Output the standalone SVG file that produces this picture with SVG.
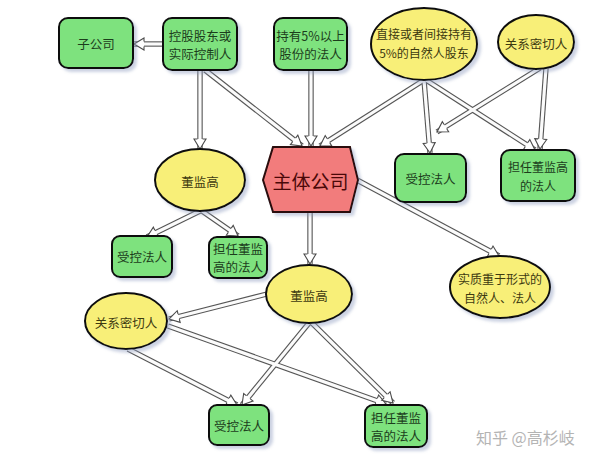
<svg xmlns="http://www.w3.org/2000/svg" xmlns:xlink="http://www.w3.org/1999/xlink" width="600" height="462" viewBox="0 0 600 462">
<defs>
<style>
text{font-family:"Noto Sans CJK SC","Noto Sans",sans-serif;text-anchor:middle;dominant-baseline:central}
.box{fill:#7ee27e;stroke:#111;stroke-width:2;filter:url(#sh)}
.ell{fill:#f8ef78;stroke:#111;stroke-width:2;filter:url(#sh)}
.hex{fill:#f27c7c;stroke:#2a0a0a;stroke-width:2;filter:url(#sh)}
.tg{font-size:12.5px;fill:#1c3d1c}
.ty{font-size:12.5px;fill:#3d3a10}
.s{font-size:12px}
.th{font-size:19px;fill:#4a0808}
.outer{fill:none;stroke:#555;stroke-width:5.4}
.inner{fill:none;stroke:#fbfbfb;stroke-width:3.2}
.head{fill:none;stroke:none;marker-end:url(#ah)}
.wm{font-size:16px;fill:#b4b4b4;text-anchor:start}
</style>
<filter id="sh" x="-20%" y="-20%" width="140%" height="150%">
<feDropShadow dx="3" dy="3" stdDeviation="1.5" flood-color="#8d9cc0" flood-opacity="0.45"/>
</filter>
<marker id="ah" markerUnits="userSpaceOnUse" orient="auto" refX="0" refY="0" markerWidth="20" markerHeight="20" overflow="visible">
<path d="M-10,-2.6 L-10,-6 L0,0 L-10,6 L-10,2.6" fill="#fff" stroke="#4a4a4a" stroke-width="1.1"/>
</marker>
<path id="c1" d="M163,44 L134,44"/>
<path id="c2" d="M200,70 L200,149"/>
<path id="c3" d="M205,70 L302,146"/>
<path id="c4" d="M311,70 L311,146"/>
<path id="c5" d="M424,80 L320,146"/>
<path id="c6" d="M424,80 L430,153"/>
<path id="c7" d="M426,80 L535,150"/>
<path id="c8" d="M540,68 L437,132"/>
<path id="c9" d="M546,68 L540,149"/>
<path id="c10" d="M200,211 L147,237"/>
<path id="c11" d="M202,211 L238,236"/>
<path id="c12" d="M310,212 L310,264"/>
<path id="c13" d="M357,180 L499,256"/>
<path id="c14" d="M267,294 L169,319"/>
<path id="c15" d="M128,349 L237,405"/>
<path id="c16" d="M309,323 L242,405"/>
<path id="c17" d="M168,326 L386,404"/>
<path id="c18" d="M312,323 L393,403"/>
</defs>
<rect width="600" height="462" fill="#fff"/>
<g id="connectors">
<g class="outer">
<use xlink:href="#c1"/><use xlink:href="#c2"/><use xlink:href="#c3"/><use xlink:href="#c4"/><use xlink:href="#c5"/><use xlink:href="#c6"/><use xlink:href="#c7"/><use xlink:href="#c8"/><use xlink:href="#c9"/><use xlink:href="#c10"/><use xlink:href="#c11"/><use xlink:href="#c12"/><use xlink:href="#c13"/><use xlink:href="#c14"/><use xlink:href="#c15"/><use xlink:href="#c16"/><use xlink:href="#c17"/><use xlink:href="#c18"/>
</g>
<g class="inner">
<use xlink:href="#c1"/><use xlink:href="#c2"/><use xlink:href="#c3"/><use xlink:href="#c4"/><use xlink:href="#c5"/><use xlink:href="#c6"/><use xlink:href="#c7"/><use xlink:href="#c8"/><use xlink:href="#c9"/><use xlink:href="#c10"/><use xlink:href="#c11"/><use xlink:href="#c12"/><use xlink:href="#c13"/><use xlink:href="#c14"/><use xlink:href="#c15"/><use xlink:href="#c16"/><use xlink:href="#c17"/><use xlink:href="#c18"/>
</g>
<g class="head">
<use xlink:href="#c1"/><use xlink:href="#c2"/><use xlink:href="#c3"/><use xlink:href="#c4"/><use xlink:href="#c5"/><use xlink:href="#c6"/><use xlink:href="#c7"/><use xlink:href="#c8"/><use xlink:href="#c9"/><use xlink:href="#c10"/><use xlink:href="#c11"/><use xlink:href="#c12"/><use xlink:href="#c13"/><use xlink:href="#c14"/><use xlink:href="#c15"/><use xlink:href="#c16"/><use xlink:href="#c17"/><use xlink:href="#c18"/>
</g>
</g>
<g id="n-subsidiary"><rect class="box" x="59" y="18" width="74" height="50" rx="9"/><text class="tg" x="96" y="43">子公司</text></g>
<g id="n-controller"><rect class="box" x="163" y="18" width="74" height="52" rx="9"/><text class="tg" x="200" y="35">控股股东或</text><text class="tg" x="200" y="53">实际控制人</text></g>
<g id="n-holder5"><rect class="box" x="274" y="18" width="73" height="52" rx="9"/><text class="tg" x="310.5" y="35">持有5%以上</text><text class="tg" x="310.5" y="53">股份的法人</text></g>
<g id="n-natural5"><ellipse class="ell" cx="424" cy="44" rx="53" ry="36"/><text class="ty s" x="424" y="33">直接或者间接持有</text><text class="ty s" x="424" y="52">5%的自然人股东</text></g>
<g id="n-close-top"><ellipse class="ell" cx="536" cy="42" rx="38" ry="27"/><text class="ty" x="536" y="43">关系密切人</text></g>
<g id="n-main"><polygon class="hex" points="263,180 273,147 350,147 358,180 350,212 273,212"/><text class="th" x="310.5" y="180">主体公司</text></g>
<g id="n-dir-left"><ellipse class="ell" cx="200" cy="180" rx="45" ry="31"/><text class="ty" x="200" y="181">董监高</text></g>
<g id="n-ctrl-left"><rect class="box" x="112" y="236" width="60" height="41" rx="8"/><text class="tg" x="142" y="256">受控法人</text></g>
<g id="n-dirp-left"><rect class="box" x="209" y="237" width="58" height="41" rx="8"/><text class="tg" x="238" y="248">担任董监</text><text class="tg" x="238" y="266">高的法人</text></g>
<g id="n-ctrl-right"><rect class="box" x="395" y="154" width="71" height="48" rx="9"/><text class="tg" x="430.5" y="178">受控法人</text></g>
<g id="n-dirp-right"><rect class="box" x="501" y="150" width="74" height="51" rx="9"/><text class="tg s" x="538" y="166">担任董监高</text><text class="tg s" x="538" y="185">的法人</text></g>
<g id="n-substance"><ellipse class="ell" cx="500" cy="287" rx="50" ry="31"/><text class="ty s" x="500" y="278">实质重于形式的</text><text class="ty s" x="500" y="297">自然人、法人</text></g>
<g id="n-dir-bottom"><ellipse class="ell" cx="309" cy="294" rx="43" ry="29"/><text class="ty" x="309" y="295">董监高</text></g>
<g id="n-close-bottom"><ellipse class="ell" cx="126" cy="321" rx="41" ry="28"/><text class="ty" x="126" y="322">关系密切人</text></g>
<g id="n-ctrl-bottom"><rect class="box" x="209" y="405" width="60" height="40" rx="8"/><text class="tg" x="239" y="425">受控法人</text></g>
<g id="n-dirp-bottom"><rect class="box" x="365" y="405" width="62" height="42" rx="8"/><text class="tg" x="396" y="417">担任董监</text><text class="tg" x="396" y="435">高的法人</text></g>
<text class="wm" x="476" y="437">知乎 @高杉岐</text>
</svg>
